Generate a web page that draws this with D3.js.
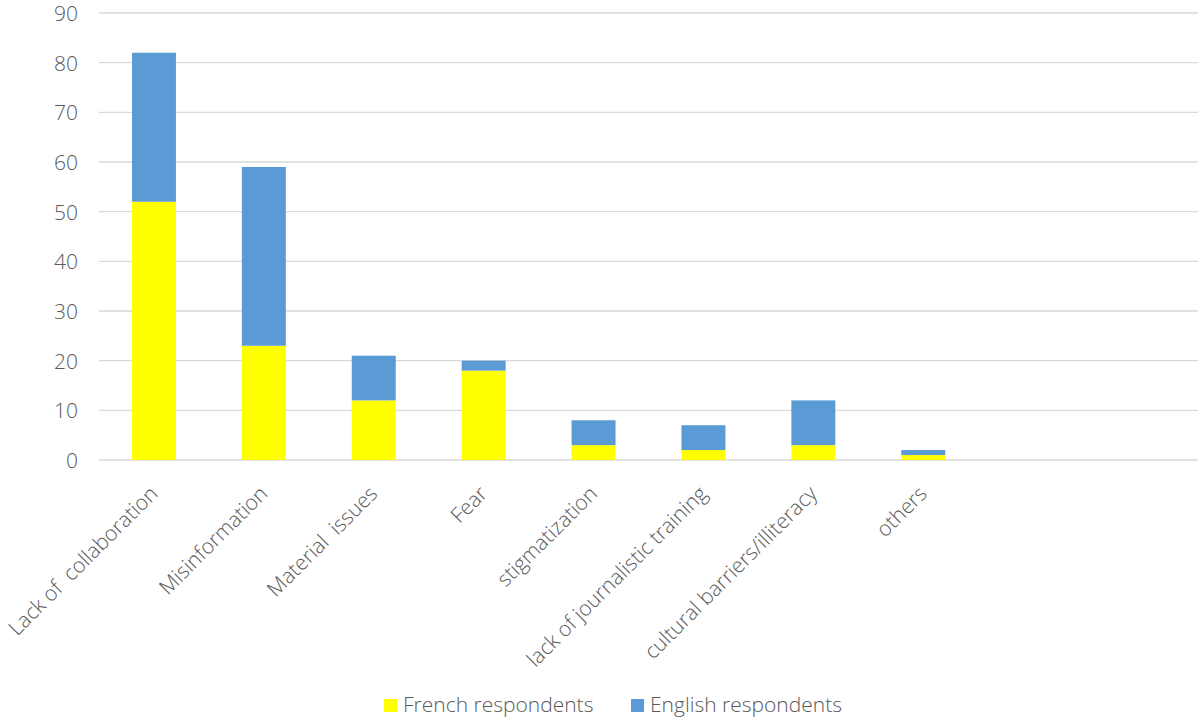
<!DOCTYPE html>
<html>
<head>
<meta charset="utf-8">
<script src="https://cdn.jsdelivr.net/npm/d3@7"></script>
<style>
  html, body { margin: 0; padding: 0; background: #fff; }
  svg text { font-family: "Open Sans", sans-serif; font-weight: 300; fill: #595959; white-space: pre; }
</style>
</head>
<body>
<svg id="chart" width="1199" height="719"></svg>
<script>
// Categories (two trailing empty slots keep the axis width)
const categories = [
  "Lack of  collaboration",
  "Misinformation",
  "Material  issues",
  "Fear",
  "stigmatization",
  "lack of journalistic training",
  "cultural barriers/illiteracy",
  "others",
  "",
  " "
];
const frenchValues  = [52, 23, 12, 18, 3, 2, 3, 1, null, null];
const englishValues = [30, 36,  9,  2, 5, 5, 9, 1, null, null];
const seriesNames = ["French respondents", "English respondents"];
const seriesColors = ["#FFFF00", "#5B9BD5"];
const yTicks = [0, 10, 20, 30, 40, 50, 60, 70, 80, 90];

const svg = d3.select("#chart");
const margin = { left: 99, right: 1, top: 13, bottom: 259 };
const W = 1199, H = 719;
const fontSize = 21;

const x = d3.scaleBand()
  .domain(categories)
  .range([margin.left, W - margin.right])
  .paddingInner(0.6)
  .paddingOuter(0.3);

const y = d3.scaleLinear()
  .domain([0, 90])
  .range([H - margin.bottom, margin.top]);

// Horizontal gridlines
svg.append("g")
  .selectAll("line")
  .data(yTicks)
  .join("line")
  .attr("x1", margin.left)
  .attr("x2", W - margin.right)
  .attr("y1", d => y(d))
  .attr("y2", d => y(d))
  .attr("stroke", "#d9d9d9")
  .attr("stroke-width", 1.3);

// Y axis labels
const yAxis = d3.axisLeft(y).tickValues(yTicks).tickSize(0).tickPadding(0);
svg.append("g")
  .attr("transform", `translate(${margin.left - 21},0)`)
  .call(yAxis)
  .call(g => g.select(".domain").remove())
  .call(g => g.selectAll("text")
    .attr("font-size", fontSize)
    .attr("font-family", "'Open Sans', sans-serif")
    .attr("fill", "#595959")
    .attr("dy", "0.35em"));

// Stacked bars
const rows = categories.map((c, i) => ({ cat: c, french: frenchValues[i], english: englishValues[i] }))
  .filter(d => d.french != null);
const stack = d3.stack().keys(["french", "english"]);
const stacked = stack(rows);

svg.append("g")
  .selectAll("g")
  .data(stacked)
  .join("g")
  .attr("fill", (d, i) => seriesColors[i])
  .selectAll("rect")
  .data(d => d)
  .join("rect")
  .attr("x", d => x(d.data.cat))
  .attr("width", x.bandwidth())
  .attr("y", d => y(d[1]))
  .attr("height", d => y(d[0]) - y(d[1]));

// X axis category labels, rotated
const xAxis = d3.axisBottom(x).tickSize(0).tickPadding(0);
svg.append("g")
  .attr("transform", `translate(0,${y(0)})`)
  .call(xAxis)
  .call(g => g.select(".domain").remove())
  .call(g => g.selectAll("text")
    .attr("font-size", fontSize)
    .attr("font-family", "'Open Sans', sans-serif")
    .attr("fill", "#595959")
    .attr("text-anchor", "end")
    .attr("dy", null)
    .attr("transform", "translate(5,35) rotate(-45)"));

// Legend
const legend = svg.append("g");
const legendX = [384, 631];
seriesNames.forEach((name, i) => {
  legend.append("rect")
    .attr("x", legendX[i]).attr("y", 699)
    .attr("width", 13).attr("height", 13)
    .attr("fill", seriesColors[i]);
  legend.append("text")
    .attr("x", legendX[i] + 19).attr("y", 712)
    .attr("font-size", fontSize)
    .text(name);
});
</script>
</body>
</html>
